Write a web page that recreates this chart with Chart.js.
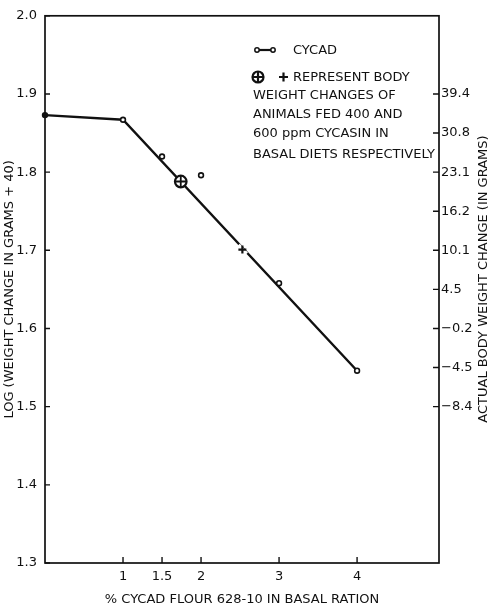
<!DOCTYPE html>
<html>
<head>
<meta charset="utf-8">
<title>Cycad flour and body weight change</title>
<script src="https://cdn.jsdelivr.net/npm/chart.js@4.4.1/dist/chart.umd.min.js"></script>
<style>
  html, body { margin: 0; padding: 0; background: #fff; }
</style>
</head>
<body>
<canvas id="cycadChart" width="490" height="607"></canvas>
<script>
  // % cycad flour in the ration vs log(weight change + 40)
  const fitDose = [0, 1, 4];
  const fitLog = [1.873, 1.867, 1.546];
  const cycadDose = [0, 1, 1.5, 2, 3, 4];
  const cycadLog = [1.873, 1.867, 1.82, 1.796, 1.658, 1.546];
  // cycasin groups: 400 ppm (circled plus) and 600 ppm (plus)
  const cycasin400Dose = [1.74];
  const cycasin400Log = [1.788];
  const cycasin600Dose = [2.53];
  const cycasin600Log = [1.701];

  const xTicks = [1, 1.5, 2, 3, 4];
  const leftTicks = [1.3, 1.4, 1.5, 1.6, 1.7, 1.8, 1.9, 2.0];
  const rightTicks = [1.9, 1.85, 1.8, 1.75, 1.7, 1.65, 1.6, 1.55, 1.5];
  const rightLabels = ["39.4", "30.8", "23.1", "16.2", "10.1", "4.5", "\u22120.2", "\u22124.5", "\u22128.4"];

  const noteLines = [
    "WEIGHT CHANGES OF",
    "ANIMALS FED 400 AND",
    "600 ppm CYCASIN IN",
    "BASAL DIETS RESPECTIVELY"
  ];

  const ink = "#111";
  const fontFamily = "'DejaVu Sans', sans-serif";
  const font13 = { family: fontFamily, size: 13 };

  const pts = (xs, ys) => xs.map((x, i) => ({ x: x, y: ys[i] }));

  // box around the plot and inward tick marks
  const frameTicks = {
    id: "frameTicks",
    beforeDatasetsDraw(chart) {
      const { ctx, chartArea: a, scales } = chart;
      ctx.save();
      ctx.strokeStyle = ink;
      ctx.lineWidth = 1.7;
      ctx.strokeRect(a.left, a.top, a.right - a.left, a.bottom - a.top);
      ctx.lineWidth = 1.4;
      ctx.beginPath();
      scales.y.ticks.forEach(t => {
        const p = scales.y.getPixelForValue(t.value);
        ctx.moveTo(a.left, p); ctx.lineTo(a.left + 5, p);
      });
      scales.y2.ticks.forEach(t => {
        const p = scales.y2.getPixelForValue(t.value);
        ctx.moveTo(a.right, p); ctx.lineTo(a.right - 6, p);
      });
      scales.x.ticks.forEach(t => {
        const p = scales.x.getPixelForValue(t.value);
        ctx.moveTo(p, a.bottom); ctx.lineTo(p, a.bottom - 6);
      });
      ctx.stroke();
      ctx.restore();
    }
  };

  // key, note text and the right-hand axis title
  const notes = {
    id: "notes",
    afterDraw(chart) {
      const ctx = chart.ctx;
      ctx.save();
      ctx.fillStyle = ink;
      ctx.strokeStyle = ink;
      ctx.font = "13px " + fontFamily;
      ctx.textBaseline = "middle";
      ctx.textAlign = "left";

      // line key
      ctx.lineWidth = 2.2;
      ctx.beginPath(); ctx.moveTo(257, 50); ctx.lineTo(273, 50); ctx.stroke();
      ctx.lineWidth = 1.5;
      [257, 273].forEach(cx => {
        ctx.beginPath(); ctx.arc(cx, 50, 2.2, 0, Math.PI * 2);
        ctx.fillStyle = "#fff"; ctx.fill(); ctx.stroke();
      });
      ctx.fillStyle = ink;
      ctx.fillText("CYCAD", 293, 51);

      // circled plus and plus
      ctx.lineWidth = 2.2;
      ctx.beginPath(); ctx.arc(258, 77, 5.5, 0, Math.PI * 2); ctx.stroke();
      ctx.beginPath();
      ctx.moveTo(252.5, 77); ctx.lineTo(263.5, 77);
      ctx.moveTo(258, 71.5); ctx.lineTo(258, 82.5);
      ctx.moveTo(279, 77); ctx.lineTo(288, 77);
      ctx.moveTo(283.5, 72.5); ctx.lineTo(283.5, 81.5);
      ctx.stroke();
      ctx.fillText("REPRESENT BODY", 293, 78);

      noteLines.forEach((s, i) => ctx.fillText(s, 253, [96, 114.5, 133.5, 155][i]));

      ctx.translate(484, 279);
      ctx.rotate(-Math.PI / 2);
      ctx.textAlign = "center";
      ctx.fillText("ACTUAL BODY WEIGHT CHANGE (IN GRAMS)", 0, 0);
      ctx.restore();
    }
  };

  new Chart(document.getElementById("cycadChart"), {
    type: "scatter",
    data: {
      datasets: [
        {
          label: "fit",
          data: pts(fitDose, fitLog),
          showLine: true,
          borderColor: ink,
          borderWidth: 2.4,
          pointRadius: 0,
          clip: false,
          order: 5
        },
        {
          // small break in the line at the plus mark
          label: "gap",
          data: pts(cycasin600Dose, cycasin600Log),
          pointStyle: "line",
          pointRotation: 47,
          pointRadius: 6,
          pointBorderColor: "#fff",
          pointBorderWidth: 4,
          clip: false,
          order: 4
        },
        {
          label: "CYCAD",
          data: pts(cycadDose, cycadLog),
          pointStyle: "circle",
          pointRadius: 2.4,
          pointBorderWidth: 1.6,
          pointBorderColor: ink,
          pointBackgroundColor: c => (c.raw && c.raw.x === 0 ? ink : "#fff"),
          clip: false,
          order: 1
        },
        {
          label: "400 ppm cycasin",
          data: pts(cycasin400Dose, cycasin400Log),
          pointStyle: "circle",
          pointRadius: 5.8,
          pointBorderWidth: 2.2,
          pointBorderColor: ink,
          pointBackgroundColor: "#fff",
          clip: false,
          order: 2
        },
        {
          label: "400 ppm cross",
          data: pts(cycasin400Dose, cycasin400Log),
          pointStyle: "cross",
          pointRadius: 5.8,
          pointBorderWidth: 1.8,
          pointBorderColor: ink,
          clip: false,
          order: 0
        },
        {
          label: "600 ppm cycasin",
          data: pts(cycasin600Dose, cycasin600Log),
          pointStyle: "cross",
          pointRadius: 4,
          pointBorderWidth: 2.2,
          pointBorderColor: ink,
          clip: false,
          order: 0
        }
      ]
    },
    options: {
      responsive: false,
      animation: false,
      events: [],
      layout: { padding: { top: 11, left: 0, right: 0, bottom: 0 } },
      plugins: { legend: { display: false }, tooltip: { enabled: false } },
      scales: {
        x: {
          type: "linear",
          min: 0,
          max: 5.05,
          afterBuildTicks: s => { s.ticks = xTicks.map(v => ({ value: v })); },
          afterFit: s => { s.height = 44; },
          grid: { display: false, drawTicks: false },
          border: { display: false },
          ticks: { color: ink, font: font13, padding: 6, maxRotation: 0, autoSkip: false, callback: v => String(v) },
          title: {
            display: true,
            text: "% CYCAD FLOUR 628-10 IN BASAL RATION",
            color: ink,
            font: font13,
            padding: { top: 0, bottom: 0 }
          }
        },
        y: {
          type: "linear",
          position: "left",
          min: 1.3,
          max: 2.0,
          afterBuildTicks: s => { s.ticks = leftTicks.map(v => ({ value: v })); },
          afterFit: s => { s.width = 45; },
          grid: { display: false, drawTicks: false },
          border: { display: false },
          ticks: { color: ink, font: font13, padding: 8, autoSkip: false, callback: v => v.toFixed(1) },
          title: {
            display: true,
            text: "LOG (WEIGHT CHANGE IN GRAMS + 40)",
            color: ink,
            font: font13,
            padding: { top: 2, bottom: 0 }
          }
        },
        y2: {
          type: "linear",
          position: "right",
          min: 1.3,
          max: 2.0,
          afterBuildTicks: s => { s.ticks = rightTicks.map(v => ({ value: v })); },
          afterFit: s => { s.width = 51; },
          grid: { display: false, drawTicks: false },
          border: { display: false },
          ticks: { color: ink, font: font13, padding: 2, autoSkip: false, callback: (v, i) => rightLabels[i] }
        }
      }
    },
    plugins: [frameTicks, notes]
  });
</script>
</body>
</html>
